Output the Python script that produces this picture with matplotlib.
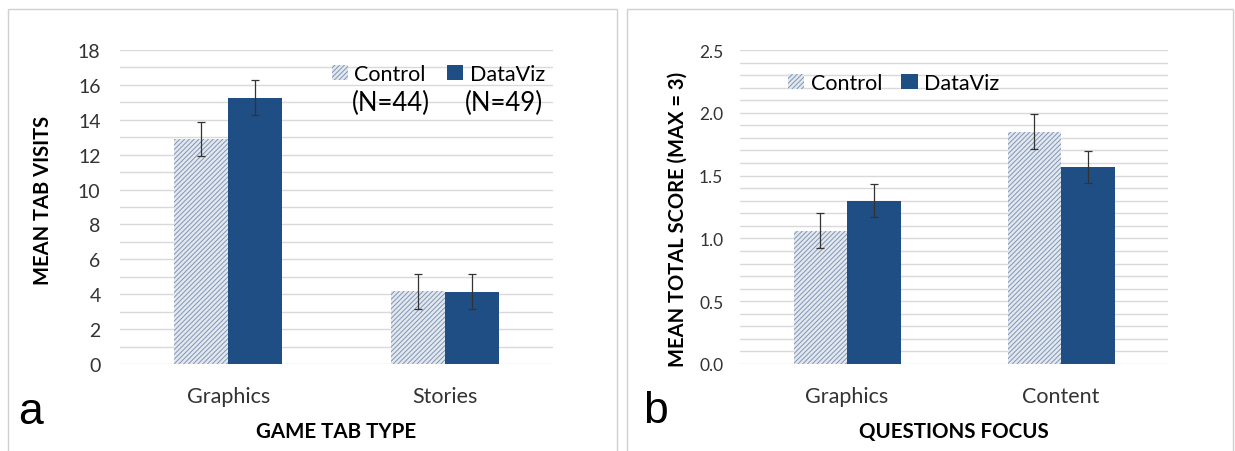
import matplotlib
matplotlib.use("Agg")
import matplotlib.pyplot as plt
from matplotlib.patches import Rectangle, Patch
import numpy as np

plt.rcParams['font.family'] = ['Lato', 'DejaVu Sans']
plt.rcParams['hatch.linewidth'] = 0.7

# ---- data ----
cats_a = ["Graphics", "Stories"]
control_a = [12.9, 4.17]
control_a_err = [1.0, 1.0]
dataviz_a = [15.27, 4.15]
dataviz_a_err = [1.0, 1.0]
yticks_a = [0, 2, 4, 6, 8, 10, 12, 14, 16, 18]

cats_b = ["Graphics", "Content"]
control_b = [1.06, 1.85]
control_b_err = [0.14, 0.14]
dataviz_b = [1.30, 1.57]
dataviz_b_err = [0.13, 0.125]
yticks_b = [0.0, 0.5, 1.0, 1.5, 2.0, 2.5]

series_names = ["Control", "DataViz"]
n_labels = ["(N=44)", "(N=49)"]

DARK = "#1f4e85"
CTRL_FACE = "#e3e8ef"
CTRL_HATCH = "#7f95b5"
GRID = "#d9d9d9"
HATCH = '///////'

fig = plt.figure(figsize=(12.35, 4.52), dpi=100)

# panel boxes
for x0, x1 in [(8, 617), (627, 1233)]:
    fig.patches.append(Rectangle((x0 / 1235, -0.01), (x1 - x0) / 1235, 1 - 10 / 452 + 0.01,
                                 transform=fig.transFigure, fill=False,
                                 edgecolor="#d0d0d0", linewidth=1.0))

def draw(ax, cats, c, ce, d, de, yticks, ymax, step, fmt, ylabel, xlabel,
         tickpad, ytick_fs, ylabel_fs, ylabel_xy):
    x = np.arange(len(cats))
    w = 0.25
    ax.bar(x - w / 2, c, w, color=CTRL_FACE, edgecolor=CTRL_HATCH, hatch=HATCH,
           linewidth=0, label=series_names[0], zorder=3)
    ax.bar(x + w / 2, d, w, color=DARK, linewidth=0, label=series_names[1], zorder=3)
    ax.errorbar(x - w / 2, c, yerr=ce, fmt='none', ecolor='#333333', elinewidth=0.9,
                capsize=3, capthick=0.9, zorder=4)
    ax.errorbar(x + w / 2, d, yerr=de, fmt='none', ecolor='#333333', elinewidth=0.9,
                capsize=3, capthick=0.9, zorder=4)
    ax.set_xlim(-0.5, 1.5)
    ax.set_ylim(0, ymax)
    ax.set_yticks(yticks)
    ax.set_yticklabels([fmt.format(v) for v in yticks], fontsize=ytick_fs, color='#333333')
    for v in np.arange(0, ymax + step / 2, step):
        ax.axhline(v, color=GRID, linewidth=1.0, zorder=1)
    ax.set_xticks(x)
    ax.set_xticklabels(cats, fontsize=15.5, color='#333333')
    ax.tick_params(axis='both', length=0)
    ax.tick_params(axis='y', pad=tickpad)
    ax.tick_params(axis='x', pad=16)
    for s in ax.spines.values():
        s.set_visible(False)
    ax.set_xlabel(xlabel, fontsize=14.8, fontweight='bold', labelpad=11)
    ax.set_ylabel(ylabel, fontsize=ylabel_fs, fontweight='bold')
    ax.yaxis.set_label_coords(*ylabel_xy)

ax1 = fig.add_axes([120 / 1235, 1 - 365 / 452, 433 / 1235, 314 / 452])
draw(ax1, cats_a, control_a, control_a_err, dataviz_a, dataviz_a_err, yticks_a, 18, 1,
     "{:d}", "MEAN TAB VISITS", "GAME TAB TYPE", 14, 14, 14.5,
     ((53 - 120) / 433, (365 - 200) / 314))

ax2 = fig.add_axes([740 / 1235, 1 - 365 / 452, 428 / 1235, 314 / 452])
draw(ax2, cats_b, control_b, control_b_err, dataviz_b, dataviz_b_err, yticks_b, 2.5, 0.1,
     "{:.1f}", "MEAN TOTAL SCORE (MAX = 3)", "QUESTIONS FOCUS", 12, 12.5, 14.5,
     ((688 - 740) / 428, (365 - 219) / 314))

handles = [Patch(facecolor=CTRL_FACE, edgecolor=CTRL_HATCH, hatch=HATCH, linewidth=0),
           Patch(facecolor=DARK, linewidth=0)]

ax1.legend(handles, series_names, ncol=2, loc='center right',
           bbox_to_anchor=((545 - 120) / 433, (365 - 75) / 314),
           frameon=False, fontsize=15.5, handlelength=0.75, handleheight=0.75,
           handletextpad=0.3, columnspacing=1.0, borderaxespad=0, borderpad=0)
ax1.text((352 - 120) / 433, (365 - 103) / 314, n_labels[0], transform=ax1.transAxes,
         fontsize=18.5, ha='left', va='center')
ax1.text((465 - 120) / 433, (365 - 103) / 314, n_labels[1], transform=ax1.transAxes,
         fontsize=18.5, ha='left', va='center')

ax2.legend(handles, series_names, ncol=2, loc='center left',
           bbox_to_anchor=((788 - 740) / 428, (365 - 84) / 314),
           frameon=False, fontsize=15.5, handlelength=0.75, handleheight=0.75,
           handletextpad=0.3, columnspacing=0.9, borderaxespad=0, borderpad=0)

fig.text(31 / 1235, 1 - 413 / 452, "a", fontsize=32, family='Liberation Sans', ha='center', va='center')
fig.text(656 / 1235, 1 - 412 / 452, "b", fontsize=32, family='Liberation Sans', ha='center', va='center')

fig.savefig("out.png", dpi=100)
